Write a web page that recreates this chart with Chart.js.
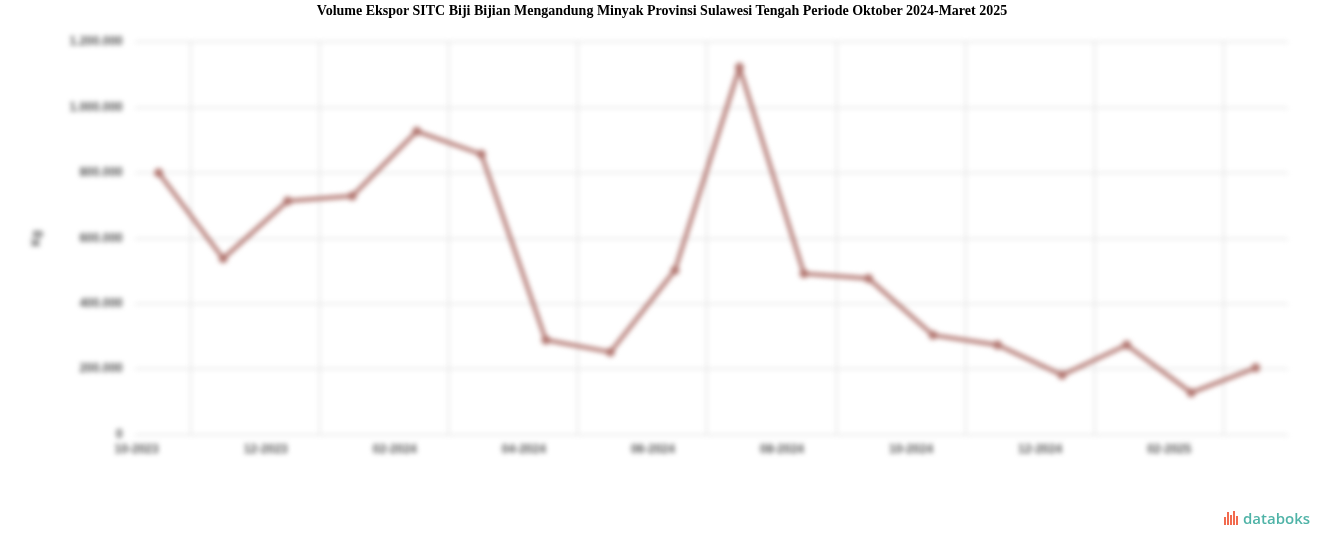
<!DOCTYPE html>
<html>
<head>
<meta charset="utf-8">
<script src="https://cdn.jsdelivr.net/npm/chart.js@4/dist/chart.umd.min.js"></script>
<style>
    html, body { margin: 0; padding: 0; background: #fff; }
    #wrap { position: relative; width: 1324px; height: 547px; overflow: hidden; }
    #title {
        position: absolute; left: 0; top: 3px; width: 1324px; text-align: center;
        font-family: "Liberation Serif", serif; font-weight: bold; font-size: 14px; color: #000;
    }
    #chart-box { position: absolute; left: 0; top: 0; width: 1324px; height: 547px; filter: blur(2.6px); }
    #logo {
        position: absolute; left: 1224px; top: 508px;
        font-family: "Open Sans", sans-serif; font-weight: 600; font-size: 15px; color: #4fb3a7;
        display: flex; align-items: center;
    }
    #logo .icon { display: flex; align-items: flex-end; height: 14px; margin-right: 4px; }
    #logo .icon span { display: block; width: 2px; margin-right: 1px; background: #f26b4f; }
</style>
</head>
<body>
<div id="wrap">
    <div id="chart-box"><canvas id="chart" width="1324" height="547"></canvas></div>
    <div id="title">Volume Ekspor SITC Biji Bijian Mengandung Minyak Provinsi Sulawesi Tengah Periode Oktober 2024-Maret 2025</div>
    <div id="logo"><div class="icon"><span style="height:8px"></span><span style="height:13px"></span><span style="height:10px"></span><span style="height:14px"></span><span style="height:9px"></span></div>databoks</div>
</div>
<script>
// bulan Oktober 2023 - Maret 2025
const months = ["10-2023", "11-2023", "12-2023", "01-2024", "02-2024", "03-2024", "04-2024", "05-2024", "06-2024",
    "07-2024", "08-2024", "09-2024", "10-2024", "11-2024", "12-2024", "01-2025", "02-2025", "03-2025"];
// volume ekspor (kg)
const volume = [800000, 538000, 714000, 729000, 927000, 857000, 289000, 252000, 502000,
    1122000, 492000, 477000, 304000, 274000, 182000, 274000, 128000, 204000];
const yTicks = [0, 200000, 400000, 600000, 800000, 1000000, 1200000];

const lineColor = "rgb(178, 118, 112)";
const tickFont = { family: "Liberation Sans", size: 12, weight: "bold" };

const ctx = document.getElementById("chart").getContext("2d");
const chart = new Chart(ctx, {
    type: "line",
    data: {
        datasets: [{
            label: "Volume",
            data: volume.map((v, i) => ({ x: i, y: v })),
            borderColor: lineColor,
            backgroundColor: lineColor,
            borderWidth: 4,
            pointRadius: 2.5,
            tension: 0,
        }],
    },
    options: {
        responsive: false,
        animation: false,
        layout: { padding: { top: 42, left: 25, right: 36, bottom: 82 } },
        plugins: {
            legend: { display: false },
            tooltip: { enabled: false },
        },
        scales: {
            x: {
                type: "linear",
                min: -0.37,
                max: 17.5,
                border: { display: false },
                afterBuildTicks: axis => {
                    const t = [];
                    for (let i = 0; i < months.length; i += 2) {
                        t.push({ value: i });
                        if (i + 0.5 < months.length - 1) t.push({ value: i + 0.5 });
                    }
                    axis.ticks = t;
                },
                grid: {
                    color: c => (c.tick && c.tick.value % 2 !== 0) ? "#e3e3e3" : "rgba(0,0,0,0)",
                    lineWidth: 1.5,
                    drawTicks: false,
                },
                ticks: {
                    autoSkip: false,
                    maxRotation: 0,
                    align: "end",
                    padding: 8,
                    color: "#555",
                    font: tickFont,
                    callback: value => (value % 2 === 0 ? months[value] : ""),
                },
            },
            y: {
                min: 0,
                max: 1200000,
                border: { display: false },
                afterBuildTicks: axis => { axis.ticks = yTicks.map(v => ({ value: v })); },
                grid: { color: "#e3e3e3", lineWidth: 1.5, drawTicks: false },
                ticks: {
                    padding: 12,
                    color: "#555",
                    font: tickFont,
                    callback: value => value.toLocaleString("id-ID"),
                },
                title: {
                    display: true,
                    text: "Kg",
                    color: "#555",
                    font: tickFont,
                    padding: { bottom: 14 },
                },
            },
        },
    },
});
</script>
</body>
</html>
